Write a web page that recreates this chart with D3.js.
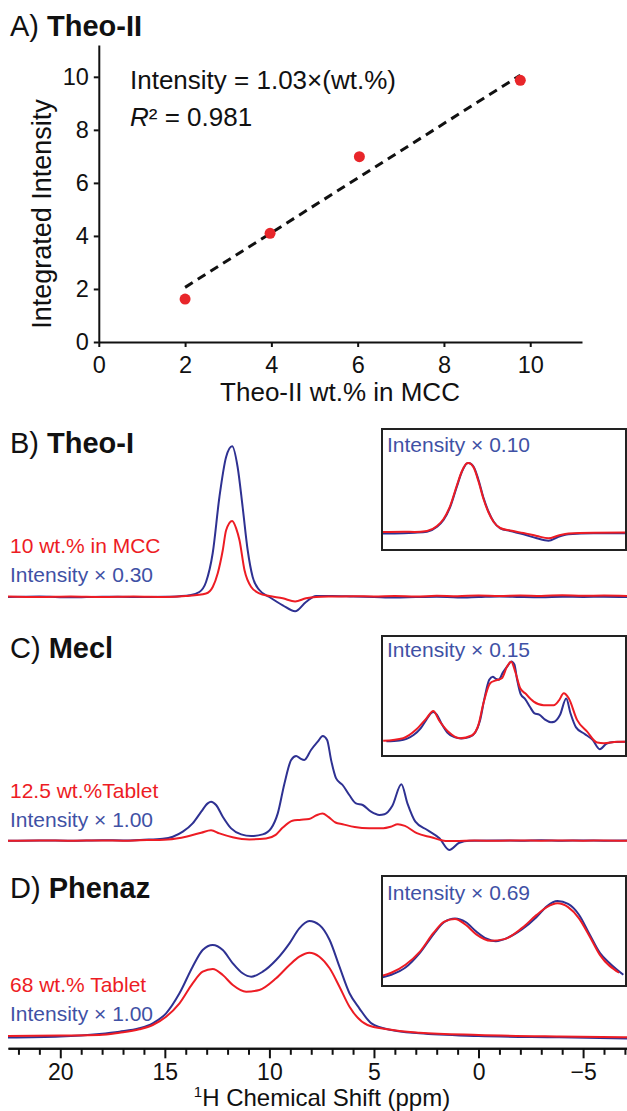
<!DOCTYPE html>
<html>
<head>
<meta charset="utf-8">
<script src="https://cdn.jsdelivr.net/npm/d3@7"></script>
<style>
  body { margin: 0; background: #fff; }
  svg { display: block; font-family: "Liberation Sans", Arial, sans-serif; }
</style>
</head>
<body>
<svg id="chart" width="627" height="1111"></svg>
<script>
// Panel A: calibration of Theo-II
const wtPercent = [2, 3.97, 6.04, 9.77];
const integratedIntensity = [1.62, 4.1, 6.99, 9.87];
const fitSlope = 1.03;
const fitRange = [2, 9.77];
const xTicksA = [0, 2, 4, 6, 8, 10];
const yTicksA = [0, 2, 4, 6, 8, 10];

// Spectra, [ppm, intensity] (blue = pure form, red = formulation)
const theoIBlue = [
  [22.5, 0], [21, 0.5], [19.5, -0.3], [18, 0.3], [16.5, 0], [15, 0.3], [14.3, 0.8],
  [13.82, 1.7], [13.35, 5], [13.03, 15], [12.71, 44], [12.39, 100], [12.07, 140],
  [11.78, 150.7], [11.52, 130], [11.28, 90], [11.04, 47], [10.8, 20], [10.48, 7],
  [10.0, 0], [9.36, -8.3], [8.77, -14.3], [8.25, -5], [7.77, 1], [7.0, 1], [6, 0.5],
  [5, 0], [4, -0.5], [3, 0], [2, 0.3], [1, -0.5], [0, 0], [-1, 0.5], [-2, 0],
  [-3, -0.3], [-4, 0.3], [-5, 0], [-6, 0.3], [-7.1, 0]
];
const theoIRed = [
  [22.5, 0.5], [21, 0], [19.5, 0.5], [18, 0], [16.5, 0.5], [15, 0], [14, 1],
  [13.03, 3.5], [12.71, 10], [12.47, 23.7], [12.23, 46.7], [12.07, 66.7], [11.78, 76],
  [11.59, 68.7], [11.43, 56.7], [11.19, 26.7], [10.87, 10], [10.48, 3.7], [10.0, 1],
  [9.36, -1.3], [8.77, -4.5], [8.25, -1.3], [7.77, 0], [7, 0.5], [6, 0.8], [5, 0.5],
  [4, 1], [3, 0.5], [2, 1.2], [1, 0.8], [0, 1.5], [-1, 1], [-2, 1.5], [-3, 1],
  [-4, 1.8], [-5, 1.2], [-6, 1.5], [-7.1, 1]
];
// Theo-I inset (rescaled traces)
const theoIInsetBlue = [
  [15, 0], [14.2, 0.3], [13.8, 0.8], [13.34, 1.8], [12.97, 6.8], [12.73, 13.5],
  [12.48, 26.8], [12.24, 46.8], [12.05, 61.8], [11.87, 70], [11.81, 70.5], [11.62, 66.8],
  [11.44, 53.5], [11.25, 35.2], [11.07, 21.8], [10.88, 11.8], [10.64, 5.2], [10.27, 2.5],
  [9.78, -0.8], [9.29, -4.8], [8.86, -7.2], [8.49, -3.2], [8.12, -0.8], [7.2, 0.2], [6, 0.2]
];
const theoIInsetRed = [
  [15, 1.5], [14.2, 1.8], [13.8, 1.5], [13.34, 2.5], [12.97, 7.5], [12.73, 14.5],
  [12.48, 28], [12.24, 48], [12.05, 62.5], [11.87, 70.3], [11.81, 70.5], [11.62, 66],
  [11.44, 52], [11.25, 34], [11.07, 21], [10.88, 11.5], [10.64, 5.5], [10.27, 3],
  [9.78, 0.5], [9.29, -2.5], [8.86, -4.8], [8.49, -2], [8.12, 0], [7.2, 0.8], [6, 1]
];
const meclBlue = [
  [22.5, 0], [21, 0.3], [19.5, 0], [18, 0.5], [17, 0.3], [16, 1], [15.1, 2], [14.62, 4],
  [14.14, 9], [13.67, 17.3], [13.26, 29], [12.95, 37.3], [12.79, 39], [12.55, 35.7],
  [12.23, 24], [11.83, 12.3], [11.35, 6.3], [10.87, 4.7], [10.32, 6.3], [9.92, 12.3],
  [9.6, 27.3], [9.28, 57.3], [8.96, 80.7], [8.72, 84.7], [8.53, 82.3], [8.33, 80.7],
  [8.01, 90.7], [7.69, 99], [7.45, 104.7], [7.24, 100.7], [7.05, 80.7], [6.81, 62.3],
  [6.5, 55.7], [6.18, 45.7], [5.86, 37.3], [5.54, 35.7], [5.14, 29], [4.74, 25.7],
  [4.5, 26.4], [4.12, 35], [3.69, 56.4], [3.4, 37.3], [3.02, 19], [2.45, 10.7],
  [1.87, 2.4], [1.4, -9.3], [0.92, -2], [0.44, 0], [-1, 0.3], [-2, 0], [-3, 0.5],
  [-4, 0], [-5, 0.3], [-6, 0], [-7.1, 0.2]
];
const meclRed = [
  [22.5, 0], [21, 0.3], [19.5, 0], [18, 0.3], [17, 0], [16.22, 0.4], [14.85, 1.3],
  [13.94, 4.3], [13.26, 8], [12.79, 10.5], [12.39, 7.3], [11.76, 3.5], [10.96, 1.3],
  [10.16, 2.2], [9.7, 5.8], [9.36, 13.1], [8.9, 19.9], [8.56, 20.8], [8.1, 21.6],
  [7.75, 25.5], [7.46, 27.2], [7.18, 23.8], [6.84, 18.2], [6.5, 16.5], [5.92, 13.7],
  [5.23, 12.5], [4.55, 12.5], [4.2, 14.0], [3.86, 16.5], [3.52, 14.8], [2.95, 7.5],
  [2.26, 3.5], [1.57, -0.2], [1.11, -0.4], [0.2, 0.1], [-1, 0], [-2, 0.3], [-3, 0],
  [-4, 0.3], [-5, 0], [-6, 0.3], [-7.1, 0]
];
const phenazBlue = [
  [22.5, 1], [20, 2], [18.13, 4.5], [17.17, 6.8], [16.22, 10.2], [15.58, 15.2],
  [14.94, 25.2], [14.3, 45.2], [13.67, 71.8], [13.19, 88.5], [12.71, 93.5], [12.23, 88.5],
  [11.75, 75.2], [11.28, 65.2], [10.87, 61.8], [10.32, 66.8], [9.68, 78.5], [9.04, 95.2],
  [8.57, 110.2], [8.09, 117.5], [7.61, 113.5], [7.12, 98.5], [6.65, 71.8], [6.17, 45.2],
  [5.7, 30.2], [5.12, 15.2], [4.17, 8.5], [2.83, 5.2], [0, 2.5], [-3.86, 1.2], [-7.1, 0]
];
const phenazRed = [
  [22.5, 2.5], [20, 3], [18.13, 3.5], [17.17, 5.8], [16.22, 9.2], [15.58, 13.5],
  [14.94, 21.8], [14.3, 35.2], [13.67, 55.2], [13.19, 66.8], [12.71, 69.5], [12.23, 63.5],
  [11.75, 53.5], [11.11, 46.8], [10.48, 48.5], [9.68, 60.2], [9.04, 73.5], [8.57, 81.8],
  [8.09, 85.8], [7.61, 81.8], [7.12, 70.2], [6.65, 51.8], [6.17, 31.8], [5.31, 13.5],
  [4.36, 9.2], [2.83, 5.8], [0, 3.5], [-3.86, 2], [-7.1, 1.2]
];
const shiftMajorTicks = [20, 15, 10, 5, 0, -5];

const panelTitles = [["A) ", "Theo-II"], ["B) ", "Theo-I"], ["C) ", "Mecl"], ["D) ", "Phenaz"]];
const sampleLabels = ["10 wt.% in MCC", "12.5 wt.%Tablet", "68 wt.% Tablet"];
const scaleLabels = ["Intensity × 0.30", "Intensity × 1.00", "Intensity × 1.00"];
const insetLabels = ["Intensity × 0.10", "Intensity × 0.15", "Intensity × 0.69"];

const BLUE = "#2e3192";
const BLUE_TEXT = "#3f51a5";
const RED = "#ed1c24";

const svg = d3.select("#chart");

function panelTitle(y, title) {
  const t = svg.append("text").attr("x", 10).attr("y", y).attr("font-size", 29).attr("fill", "#111");
  t.append("tspan").text(title[0]);
  t.append("tspan").attr("font-weight", "bold").text(title[1]);
}

function styleAxis(g, size) {
  g.attr("font-family", null).attr("font-size", null);
  g.select(".domain").attr("stroke", "#111").attr("stroke-width", 2);
  g.selectAll(".tick line").attr("stroke", "#111").attr("stroke-width", 2);
  g.selectAll(".tick text").attr("font-size", size).attr("fill", "#111");
}

function createCalibration() {
  const x = d3.scaleLinear().domain([0, 11.2]).range([98.8, 582]);
  const y = d3.scaleLinear().domain([0, 11.2]).range([342, 45]);

  panelTitle(36, panelTitles[0]);

  svg.append("g")
    .attr("transform", "translate(0,342)")
    .call(d3.axisBottom(x).tickValues(xTicksA).tickSize(5).tickSizeOuter(0).tickPadding(9))
    .call((g) => styleAxis(g, 23.5));

  svg.append("g")
    .attr("transform", "translate(98.8,0)")
    .call(d3.axisLeft(y).tickValues(yTicksA).tickSize(5).tickSizeOuter(0).tickPadding(5))
    .call((g) => styleAxis(g, 23.5));

  svg.append("text")
    .attr("x", 340).attr("y", 401)
    .attr("text-anchor", "middle").attr("font-size", 26).attr("fill", "#111")
    .text("Theo-II wt.% in MCC");

  svg.append("text")
    .attr("transform", "translate(51,214) rotate(-90)")
    .attr("text-anchor", "middle").attr("font-size", 27).attr("fill", "#111")
    .text("Integrated Intensity");

  // Fit line
  svg.append("path")
    .datum(fitRange)
    .attr("fill", "none")
    .attr("stroke", "#111")
    .attr("stroke-width", 3)
    .attr("stroke-dasharray", "9,6")
    .attr("d", d3.line().x((d) => x(d)).y((d) => y(fitSlope * d)));

  svg.selectAll("circle.pt")
    .data(wtPercent)
    .enter()
    .append("circle")
    .attr("class", "pt")
    .attr("cx", (d) => x(d))
    .attr("cy", (d, i) => y(integratedIntensity[i]))
    .attr("r", 5.5)
    .attr("fill", "#e8262a");

  svg.append("text")
    .attr("x", 130).attr("y", 89).attr("font-size", 26).attr("fill", "#111")
    .text(`Intensity = ${fitSlope.toFixed(2)}×(wt.%)`);

  const r2 = svg.append("text").attr("x", 130).attr("y", 126).attr("font-size", 26).attr("fill", "#111");
  r2.append("tspan").attr("font-style", "italic").text("R");
  r2.append("tspan").text("² = 0.981");
}

const shiftScale = d3.scaleLinear().domain([22.5, -7.1]).range([8, 627]);

function createSpectrum(p, i) {
  const y = d3.scaleLinear().domain([0, 100]).range([p.baseline, p.baseline - 100]);
  const line = d3.line()
    .curve(d3.curveMonotoneX)
    .x((d) => shiftScale(d[0]))
    .y((d) => y(d[1]));

  panelTitle(p.titleY, panelTitles[i + 1]);

  svg.append("text").attr("x", 10).attr("y", p.labelY).attr("font-size", 21)
    .attr("fill", RED).text(sampleLabels[i]);
  svg.append("text").attr("x", 10).attr("y", p.labelY + 29).attr("font-size", 21)
    .attr("fill", BLUE_TEXT).text(scaleLabels[i]);

  [[p.blue, BLUE], [p.red, RED]].forEach(([data, color]) => {
    svg.append("path")
      .datum(data)
      .attr("fill", "none")
      .attr("stroke", color)
      .attr("stroke-width", 2)
      .attr("d", line);
  });

  // Inset
  const inset = p.inset;
  const box = { x: 382, y: inset.top, w: 244, h: inset.bottom - inset.top };
  const clipId = `clip${i}`;
  svg.append("clipPath").attr("id", clipId)
    .append("rect").attr("x", box.x).attr("y", box.y).attr("width", box.w).attr("height", box.h);

  const xi = d3.scaleLinear().domain(inset.domain).range([box.x, box.x + box.w]);
  const yi = d3.scaleLinear().domain([0, 100]).range([inset.base, inset.base - 100]);
  const g = svg.append("g").attr("clip-path", `url(#${clipId})`);

  const traces = [
    [inset.blue || p.blue, BLUE, inset.blueGain || 1],
    [inset.red || p.red, RED, inset.redGain || 1]
  ];
  traces.forEach(([data, color, gain]) => {
    g.append("path")
      .datum(data.filter((d) => d[0] <= inset.domain[0] + 0.6 && d[0] >= inset.domain[1] - 0.6))
      .attr("fill", "none")
      .attr("stroke", color)
      .attr("stroke-width", 2)
      .attr("d", d3.line().curve(d3.curveMonotoneX).x((d) => xi(d[0])).y((d) => yi(d[1] * gain)));
  });

  svg.append("rect")
    .attr("x", box.x).attr("y", box.y).attr("width", box.w).attr("height", box.h)
    .attr("fill", "none").attr("stroke", "#222").attr("stroke-width", 2);

  svg.append("text").attr("x", 387).attr("y", inset.labelY).attr("font-size", 21)
    .attr("fill", BLUE_TEXT).text(insetLabels[i]);
}

function createShiftAxis() {
  const minor = d3.range(-7, 23).filter((v) => v % 5 !== 0);
  svg.append("g")
    .attr("transform", "translate(0,1048.3)")
    .call(d3.axisBottom(shiftScale).tickValues(minor).tickSize(6.5).tickSizeOuter(0).tickFormat(""))
    .call((g) => styleAxis(g, 23));
  svg.append("g")
    .attr("transform", "translate(0,1048.3)")
    .call(d3.axisBottom(shiftScale).tickValues(shiftMajorTicks).tickSize(10).tickSizeOuter(0).tickPadding(5))
    .call((g) => styleAxis(g, 23));

  const t = svg.append("text").attr("x", 322).attr("y", 1106).attr("text-anchor", "middle")
    .attr("font-size", 24).attr("fill", "#111");
  t.append("tspan").attr("font-size", 15).attr("dy", -9).text("1");
  t.append("tspan").attr("dy", 9).text("H Chemical Shift (ppm)");
}

const spectra = [
  { blue: theoIBlue, red: theoIRed, baseline: 597, titleY: 453, labelY: 553,
    inset: { top: 429, bottom: 550, domain: [15, 6], base: 533.5,
      blue: theoIInsetBlue, red: theoIInsetRed, labelY: 452 } },
  { blue: meclBlue, red: meclRed, baseline: 840.7, titleY: 658, labelY: 798,
    inset: { top: 636, bottom: 756, domain: [16.3, -0.4], base: 742, blueGain: 0.77, redGain: 2.95, labelY: 657 } },
  { blue: phenazBlue, red: phenazRed, baseline: 1038.5, titleY: 898, labelY: 991.5,
    inset: { top: 876, bottom: 986, domain: [16, 5], base: 985.7, blueGain: 0.72, redGain: 0.96, labelY: 900 } }
];

createCalibration();
spectra.forEach(createSpectrum);
createShiftAxis();
</script>
</body>
</html>
